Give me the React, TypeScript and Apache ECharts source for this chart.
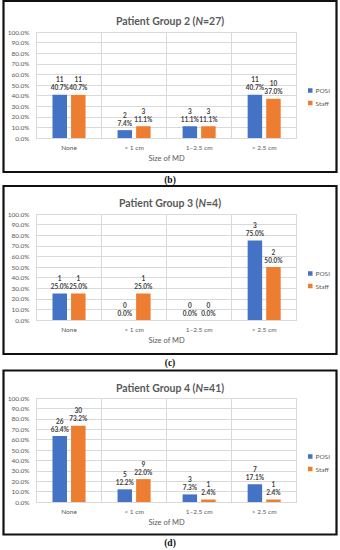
import React, { useEffect, useRef } from "react";
import * as echarts from "echarts";

const categories = ["None", "< 1 cm", "1\u20132.5 cm", "> 2.5 cm"];
const seriesNames = ["POSI", "Staff"];

const groupTitles = ["Patient Group 2", "Patient Group 3", "Patient Group 4"];
const groupN = [27, 4, 41];
const panelLetters = ["(b)", "(c)", "(d)"];

// Group 2
const g2PosiCount = [11, 2, 3, 11];
const g2PosiPct = [40.7, 7.4, 11.1, 40.7];
const g2StaffCount = [11, 3, 3, 10];
const g2StaffPct = [40.7, 11.1, 11.1, 37.0];
// Group 3
const g3PosiCount = [1, 0, 0, 3];
const g3PosiPct = [25.0, 0.0, 0.0, 75.0];
const g3StaffCount = [1, 1, 0, 2];
const g3StaffPct = [25.0, 25.0, 0.0, 50.0];
// Group 4
const g4PosiCount = [26, 5, 3, 7];
const g4PosiPct = [63.4, 12.2, 7.3, 17.1];
const g4StaffCount = [30, 9, 1, 1];
const g4StaffPct = [73.2, 22.0, 2.4, 2.4];

const yTicks = [0, 10, 20, 30, 40, 50, 60, 70, 80, 90, 100];

const BLUE = "#4472C4";
const ORANGE = "#ED7D31";
const GRID = "#d9d9d9";
const TXT = "#595959";
const FONT = "Lato";

export default function App() {
  const ref = useRef<HTMLDivElement>(null);
  useEffect(() => {
    if (!ref.current) return;
    const chart = echarts.init(ref.current, null, { renderer: "svg" });

    const panels = [
      { posiC: g2PosiCount, posiP: g2PosiPct, staffC: g2StaffCount, staffP: g2StaffPct, top: 32, height: 106, titleTop: 10, legendTop: 87, border: [1, 172], letterY: 180 },
      { posiC: g3PosiCount, posiP: g3PosiPct, staffC: g3StaffCount, staffP: g3StaffPct, top: 214, height: 106, titleTop: 192, legendTop: 270, border: [186, 354], letterY: 363 },
      { posiC: g4PosiCount, posiP: g4PosiPct, staffC: g4StaffCount, staffP: g4StaffPct, top: 398, height: 104, titleTop: 377, legendTop: 453, border: [370.5, 534.5], letterY: 543 },
    ];

    const grids: any[] = [];
    const xAxes: any[] = [];
    const yAxes: any[] = [];
    const series: any[] = [];
    const titles: any[] = [];
    const legends: any[] = [];
    const graphics: any[] = [];

    panels.forEach((p, i) => {
      grids.push({ left: 36.5, right: 43.3, top: p.top, height: p.height, containLabel: false });
      xAxes.push({
        type: "category",
        gridIndex: i,
        data: categories,
        axisLine: { show: true, lineStyle: { color: GRID, width: 1 } },
        axisTick: { show: false },
        splitLine: { show: true, lineStyle: { color: GRID, width: 1 } },
        axisLabel: { fontSize: 6.5, color: TXT, margin: 5.5, fontFamily: FONT, interval: 0 },
        name: "Size of MD",
        nameLocation: "middle",
        nameGap: 16,
        nameTextStyle: { fontSize: 7.5, color: TXT, fontFamily: FONT, verticalAlign: "top" },
      });
      yAxes.push({
        type: "value",
        gridIndex: i,
        min: yTicks[0],
        max: yTicks[yTicks.length - 1],
        interval: 10,
        axisLine: { show: false },
        axisTick: { show: false },
        splitLine: { show: true, lineStyle: { color: GRID, width: 1 } },
        axisLabel: { fontSize: 6.5, color: TXT, margin: 7, fontFamily: FONT, formatter: (v: number) => v.toFixed(1) + "%" },
      });
      const mk = (name: string, color: string, counts: number[], pcts: number[]) => ({
        type: "bar",
        name,
        xAxisIndex: i,
        yAxisIndex: i,
        data: pcts,
        barWidth: 14.5,
        barGap: "28%",
        itemStyle: { color },
        label: {
          show: true,
          position: "top",
          distance: 3,
          fontSize: 6.5,
          lineHeight: 8,
          fontWeight: "bold",
          color: "#404040",
          fontFamily: FONT,
          formatter: (params: any) => counts[params.dataIndex] + "\n" + pcts[params.dataIndex].toFixed(1) + "%",
        },
      });
      series.push(mk(seriesNames[0], BLUE, p.posiC, p.posiP));
      series.push(mk(seriesNames[1], ORANGE, p.staffC, p.staffP));
      titles.push({
        text: "{a|" + groupTitles[i] + " (}{i|N}{a|=" + groupN[i] + ")}",
        left: "center",
        top: p.titleTop,
        textStyle: {
          rich: {
            a: { fontSize: 10.5, color: TXT, fontFamily: FONT, fontWeight: "bold" },
            i: { fontSize: 10.5, color: TXT, fontFamily: FONT, fontWeight: "bold", fontStyle: "italic" },
          },
        },
      });
      legends.push({
        data: seriesNames,
        orient: "vertical",
        left: 308,
        top: p.legendTop,
        padding: 0,
        itemWidth: 4.5,
        itemHeight: 4.5,
        itemGap: 5.5,
        icon: "rect",
        textStyle: { fontSize: 6.5, color: TXT, fontFamily: FONT, padding: [0, 0, 0, -2] },
      });
      graphics.push({
        type: "rect",
        shape: { x: 3.5, y: p.border[0], width: 333, height: p.border[1] - p.border[0] },
        style: { fill: "none", stroke: "#111", lineWidth: 2.2 },
        silent: true,
      });
      graphics.push({
        type: "text",
        x: 170,
        y: p.letterY,
        style: { text: panelLetters[i], fontSize: 9.5, fontFamily: "Liberation Serif", fontWeight: "bold", fill: "#111", align: "center", verticalAlign: "middle" },
      });
    });

    chart.setOption({
      animation: false,
      backgroundColor: "#ffffff",
      title: titles,
      legend: legends,
      grid: grids,
      xAxis: xAxes,
      yAxis: yAxes,
      series,
      graphic: graphics,
    });
    return () => chart.dispose();
  }, []);
  return <div ref={ref} style={{ position: "absolute", left: 0, top: 0, width: 340, height: 550 }} />;
}
